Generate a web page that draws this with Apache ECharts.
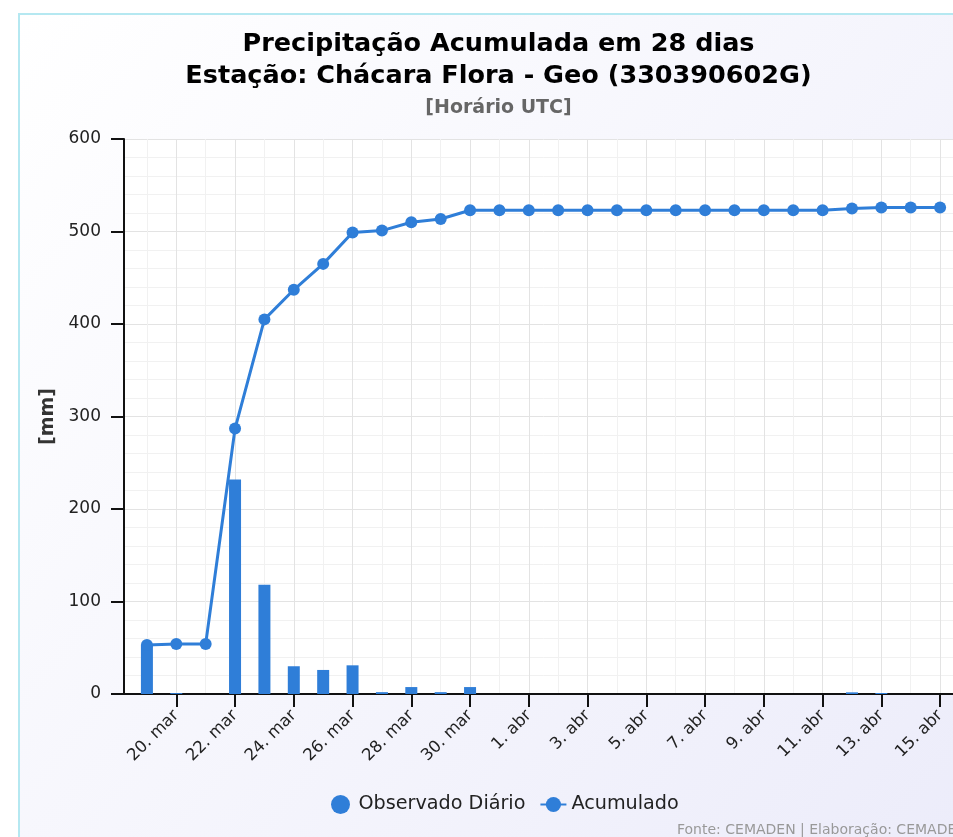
<!DOCTYPE html>
<html>
<head>
<meta charset="utf-8">
<script src="https://cdn.jsdelivr.net/npm/echarts@6/dist/echarts.min.js"></script>
<style>
  html, body { margin: 0; padding: 0; width: 953px; height: 837px; overflow: hidden; background: #fff; }
  #frame { position: absolute; left: 18px; top: 13px; border-left: 2px solid #b5e8f1; border-top: 2px solid #b5e8f1; }
  #chart { width: 957px; height: 830px; }
</style>
</head>
<body>
<div id="frame"><div id="chart"></div></div>
<script>
// dias (19 mar -> 15 abr)
const dias = ['19. mar', '20. mar', '21. mar', '22. mar', '23. mar', '24. mar', '25. mar', '26. mar',
  '27. mar', '28. mar', '29. mar', '30. mar', '31. mar', '1. abr', '2. abr', '3. abr', '4. abr',
  '5. abr', '6. abr', '7. abr', '8. abr', '9. abr', '10. abr', '11. abr', '12. abr', '13. abr',
  '14. abr', '15. abr']

// chuva observada por dia [mm]
const diario = [53, 1, 0, 232, 118, 30, 26, 31, 2, 7.5, 2, 7.5,
  0, 0, 0, 0, 0, 0, 0, 0, 0, 0, 0, 0,
  1.8, 1.1, 0, 0]

// precipitação acumulada [mm]
const acumulado = [53, 54, 54, 287, 405, 437, 465, 499, 501, 510, 513.5, 523,
  523, 523, 523, 523, 523, 523, 523, 523, 523, 523, 523, 523,
  524.8, 525.9, 525.9, 525.9]

// posições (índice do dia) com rótulo e sem rótulo no eixo x
const diasComRotulo = [1, 3, 5, 7, 9, 11, 13, 15, 17, 19, 21, 23, 25, 27]
const diasSemRotulo = [0, 2, 4, 6, 8, 10, 12, 14, 16, 18, 20, 22, 24, 26]

const azul = '#2f7ed8'
const xMin = -0.78
const xMax = 27.78

const chart = echarts.init(document.getElementById('chart'))

chart.setOption({
  animation: false,
  backgroundColor: new echarts.graphic.LinearGradient(0, 0, 1, 1, [
    { offset: 0, color: '#ffffff' },
    { offset: 1, color: '#ececfa' }
  ]),
  textStyle: { fontFamily: 'DejaVu Sans' },
  title: {
    left: 'center',
    top: 13,
    padding: 0,
    itemGap: 6,
    text: 'Precipitação Acumulada em 28 dias\nEstação: Chácara Flora - Geo (330390602G)',
    textStyle: { fontSize: 25.5, fontWeight: 'bold', color: '#000', lineHeight: 32 },
    subtext: '[Horário UTC]',
    subtextStyle: { fontSize: 19, fontWeight: 'bold', color: '#666', lineHeight: 20 }
  },
  legend: {
    top: 780,
    left: 311,
    padding: 0,
    itemGap: 14,
    itemWidth: 26,
    itemHeight: 19,
    textStyle: { fontSize: 19.2, color: '#222' },
    data: [{ name: 'Observado Diário', icon: 'circle' }, { name: 'Acumulado' }]
  },
  grid: {
    left: 104,
    top: 124,
    right: 14,
    bottom: 151,
    show: true,
    backgroundColor: '#fff',
    borderWidth: 0
  },
  xAxis: [
    {
      type: 'value',
      min: xMin,
      max: xMax,
      position: 'bottom',
      axisLine: { show: true, onZero: false, lineStyle: { color: '#111', width: 2 } },
      axisTick: { show: true, length: 13, customValues: diasComRotulo, lineStyle: { color: '#111', width: 2 } },
      axisLabel: {
        customValues: diasComRotulo,
        rotate: 45,
        margin: 19,
        fontSize: 16.5,
        color: '#222',
        formatter: v => dias[Math.round(v)]
      },
      splitLine: { show: true, lineStyle: { color: '#e3e3e3', width: 1 } }
    },
    {
      type: 'value',
      min: xMin,
      max: xMax,
      position: 'bottom',
      axisLine: { show: false, onZero: false },
      axisTick: { show: false, customValues: diasSemRotulo },
      axisLabel: { show: false },
      splitLine: { show: true, lineStyle: { color: '#f1f1f1', width: 1 } }
    }
  ],
  yAxis: {
    type: 'value',
    min: 0,
    max: 600,
    interval: 100,
    name: '[mm]',
    nameLocation: 'middle',
    nameGap: 58,
    nameTextStyle: { fontSize: 19, fontWeight: 'bold', color: '#333' },
    axisLine: { show: true, onZero: false, lineStyle: { color: '#111', width: 2 } },
    axisTick: { show: true, length: 13, lineStyle: { color: '#111', width: 2 } },
    axisLabel: { fontSize: 17, color: '#222', margin: 23 },
    splitLine: { show: true, lineStyle: { color: '#e3e3e3', width: 1 } },
    minorTick: { show: false, splitNumber: 5 },
    minorSplitLine: { show: true, lineStyle: { color: '#f1f1f1', width: 1 } }
  },
  series: [
    {
      name: 'Observado Diário',
      type: 'bar',
      xAxisIndex: 0,
      barWidth: 12,
      itemStyle: { color: azul },
      data: diario.map((v, i) => [i, v])
    },
    {
      name: 'Acumulado',
      type: 'line',
      xAxisIndex: 0,
      symbol: 'circle',
      symbolSize: 12,
      lineStyle: { color: azul, width: 3 },
      itemStyle: { color: azul },
      data: acumulado.map((v, i) => [i, v])
    }
  ],
  graphic: [
    {
      type: 'text',
      left: 657,
      top: 808,
      style: { text: 'Fonte: CEMADEN | Elaboração: CEMADEN', fill: '#999', font: '14px "DejaVu Sans"' }
    }
  ]
})
</script>
</body>
</html>
